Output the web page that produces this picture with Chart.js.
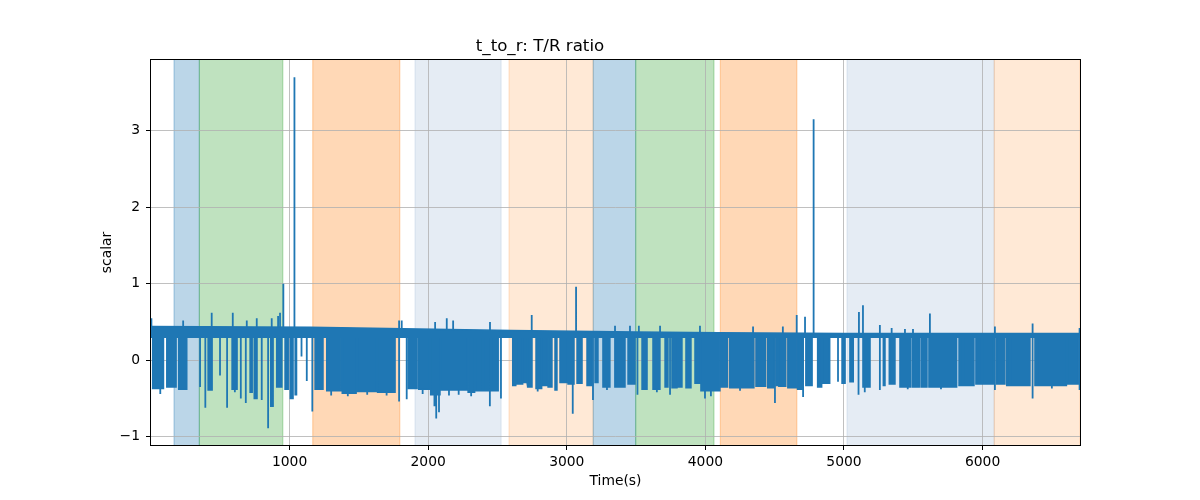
<!DOCTYPE html>
<html>
<head>
<meta charset="utf-8">
<script src="https://cdn.jsdelivr.net/npm/chart.js@4.4.1/dist/chart.umd.min.js"></script>
<style>
    html, body { margin: 0; padding: 0; background: #fff; }
    #grafico { display: block; }
</style>
</head>
<body>
<canvas id="grafico" width="1200" height="500"></canvas>
<script>
// Faixas de fundo (segundos)
const faixaInicio = [166, 349, 1167, 1905, 2583, 3191, 3497, 4108, 5022, 6084];
const faixaFim = [349, 951, 1795, 2526, 3191, 3497, 4062, 4660, 6084, 6703];
const faixaCor = [
    'rgba(31,119,180,0.3)',
    'rgba(44,160,44,0.3)',
    'rgba(255,127,14,0.3)',
    'rgba(176,196,222,0.33)',
    'rgba(255,127,14,0.17)',
    'rgba(31,119,180,0.3)',
    'rgba(44,160,44,0.3)',
    'rgba(255,127,14,0.3)',
    'rgba(176,196,222,0.33)',
    'rgba(255,127,14,0.17)'
];

// Nível superior da linha de base
const nivelT = [0, 1150, 2600, 3500, 4100, 5000, 6703];
const nivelTopo = [0.44, 0.43, 0.39, 0.37, 0.36, 0.35, 0.35];
const nivelBase = 0.29;
const topoBloco = 0.33;

// Blocos densos (início, fim, mínimo)
const blocoInicio = [12, 114, 200, 412, 585, 715, 745, 864, 907, 967, 1005, 1040, 1184, 1268, 1380, 1490, 1635,
    1855, 1932, 2018, 2092, 2288, 2345, 2400, 2460, 2610, 2641, 2684, 2720, 2778, 2821, 2865, 2915, 2951, 3009,
    3074, 3146, 3204, 3261, 3347, 3442, 3543, 3622, 3709, 3759, 3803, 3860, 3925, 3968, 4115, 4176, 4365, 4450,
    4510, 4530, 4595, 4665, 4725, 4810, 4846, 4986, 5043, 5137, 5284, 5327, 5404, 5496, 5556, 5613, 5830, 5866,
    5952, 6000, 6101, 6174, 6205, 6378, 6395, 6615];
const blocoFim = [90, 181, 258, 441, 621, 730, 765, 881, 944, 990, 1025, 1050, 1241, 1370, 1480, 1625, 1761,
    1920, 2008, 2085, 2280, 2335, 2390, 2450, 2505, 2632, 2677, 2713, 2749, 2814, 2857, 2893, 2929, 3002, 3052,
    3110, 3182, 3225, 3311, 3420, 3492, 3579, 3672, 3730, 3795, 3831, 3896, 3961, 4105, 4160, 4350, 4435, 4495,
    4520, 4580, 4660, 4700, 4770, 4839, 4897, 5008, 5067, 5188, 5296, 5368, 5483, 5543, 5599, 5813, 5856, 5938,
    5993, 6077, 6161, 6195, 6342, 6388, 6605, 6690];
const blocoMin = [-0.37, -0.35, -0.38, -0.39, -0.38, -0.42, -0.5, -0.6, -0.35, -0.38, -0.5, -0.45, -0.38, -0.4, -0.43, -0.41, -0.42,
    -0.37, -0.38, -0.45, -0.39, -0.42, -0.4, -0.4, -0.4, -0.33, -0.31, -0.29, -0.35, -0.37, -0.33, -0.35, -0.39, -0.29, -0.31,
    -0.3, -0.33, -0.29, -0.35, -0.35, -0.31, -0.38, -0.38, -0.35, -0.36, -0.35, -0.36, -0.3, -0.4, -0.35, -0.36, -0.34, -0.36,
    -0.33, -0.34, -0.36, -0.38, -0.33, -0.35, -0.3, -0.3, -0.28, -0.35, -0.33, -0.31, -0.35, -0.35, -0.35, -0.35, -0.33, -0.33,
    -0.31, -0.31, -0.31, -0.33, -0.33, -0.33, -0.33, -0.31];

// Quedas isoladas
const quedaT = [67, 354, 392, 498, 549, 605, 648, 684, 799, 845, 1086, 1124, 1164, 1300, 1420, 1560, 1700, 1790, 1845,
    1960, 2045, 2058, 2078, 2150, 2220, 2310, 2445, 2525, 2790, 3043, 3189, 3290, 3510, 3650, 3745, 3997, 4040,
    4250, 4502, 4705, 4957, 5105, 5150, 5259, 5460, 5700, 6089, 6361, 6500, 6700];
const quedaMin = [-0.44, -0.35, -0.62, -0.2, -0.62, -0.42, -0.5, -0.56, -0.52, -0.89, 0.05, -0.27, -0.67, -0.46, -0.47, -0.45, -0.46, -0.54, -0.51,
    -0.44, -0.6, -0.76, -0.68, -0.46, -0.45, -0.47, -0.6, -0.5, -0.41, -0.7, -0.52, -0.39, -0.45, -0.42, -0.45, -0.5, -0.47,
    -0.4, -0.56, -0.48, -0.28, -0.45, -0.42, -0.39, -0.38, -0.38, -0.39, -0.5, -0.37, -0.39];

// Picos para cima
const picoT = [3, 232, 438, 590, 691, 763, 871, 917, 931, 955, 1035, 1790, 1809, 2050, 2134, 2180, 2446, 2747, 3067,
    3348, 3456, 3520, 3673, 3961, 4344, 4559, 4659, 4719, 4781, 5108, 5137, 5259, 5344, 5440, 5498, 5620, 6089, 6361, 6700];
const picoMax = [0.55, 0.52, 0.62, 0.62, 0.52, 0.55, 0.55, 0.58, 0.62, 1.0, 3.7, 0.52, 0.52, 0.5, 0.55, 0.52, 0.5, 0.59, 0.96,
    0.45, 0.45, 0.45, 0.45, 0.45, 0.44, 0.44, 0.59, 0.57, 3.15, 0.63, 0.72, 0.46, 0.42, 0.41, 0.41, 0.61, 0.44, 0.48, 0.42];

const xTicks = [1000, 2000, 3000, 4000, 5000, 6000];
const yTicks = [-1, 0, 1, 2, 3];
const xMax = 6703;
const azul = '#1f77b4';

// Banda da linha de base
const pontosNivel = nivelT.map((t, i) => ({ x: t, y: nivelTopo[i] }));

// Blocos: sobem até topoBloco entre um bloco e outro
const pontosBloco = [{ x: 0, y: topoBloco }];
blocoInicio.forEach((ini, i) => {
    const fim = blocoFim[i];
    pontosBloco.push(
        { x: ini, y: topoBloco },
        { x: ini, y: blocoMin[i] },
        { x: fim, y: blocoMin[i] },
        { x: fim, y: topoBloco }
    );
});
pontosBloco.push({ x: xMax, y: topoBloco });

const pontosQueda = [];
quedaT.forEach((t, i) => {
    pontosQueda.push({ x: t, y: nivelBase }, { x: t, y: quedaMin[i] }, { x: t, y: null });
});

const pontosPico = [];
picoT.forEach((t, i) => {
    pontosPico.push({ x: t, y: nivelBase }, { x: t, y: picoMax[i] }, { x: t, y: null });
});

function formatarTick(v) {
    return v < 0 ? '\u2212' + Math.abs(v) : String(v);
}

const fonte = { family: 'DejaVu Sans', size: 13.89 };

const faixasPlugin = {
    id: 'faixas',
    beforeDraw(chart) {
        const { ctx, chartArea, scales: { x } } = chart;
        ctx.save();
        ctx.beginPath();
        ctx.rect(chartArea.left, chartArea.top, chartArea.right - chartArea.left, chartArea.bottom - chartArea.top);
        ctx.clip();
        faixaInicio.forEach((ini, i) => {
            const x0 = x.getPixelForValue(ini);
            const x1 = x.getPixelForValue(faixaFim[i]);
            ctx.fillStyle = faixaCor[i];
            ctx.fillRect(x0, chartArea.top, x1 - x0, chartArea.bottom - chartArea.top);
            ctx.strokeStyle = faixaCor[i];
            ctx.lineWidth = 1.2;
            ctx.beginPath();
            ctx.moveTo(x0, chartArea.top);
            ctx.lineTo(x0, chartArea.bottom);
            ctx.moveTo(x1, chartArea.top);
            ctx.lineTo(x1, chartArea.bottom);
            ctx.stroke();
        });
        ctx.restore();
    }
};

const molduraPlugin = {
    id: 'moldura',
    afterDatasetsDraw(chart) {
        const { ctx, chartArea } = chart;
        ctx.save();
        ctx.strokeStyle = '#000';
        ctx.lineWidth = 1;
        ctx.strokeRect(chartArea.left - 0.5, chartArea.top - 0.5,
            chartArea.right - chartArea.left + 1, chartArea.bottom - chartArea.top + 1);
        ctx.restore();
    }
};

const linhaBase = { borderColor: azul, backgroundColor: azul, pointRadius: 0, tension: 0 };

const grafico = new Chart(document.getElementById('grafico'), {
    type: 'line',
    data: {
        datasets: [
            { ...linhaBase, label: 't_to_r', data: pontosNivel, borderWidth: 1.5, fill: { value: nivelBase } },
            { ...linhaBase, label: 'blocos', data: pontosBloco, borderWidth: 1.5, fill: { value: topoBloco } },
            { ...linhaBase, label: 'quedas', data: pontosQueda, borderWidth: 1.8, fill: false },
            { ...linhaBase, label: 'picos', data: pontosPico, borderWidth: 1.8, fill: false }
        ]
    },
    options: {
        responsive: false,
        animation: false,
        devicePixelRatio: 1,
        layout: { padding: { left: 0, right: 120, top: 0, bottom: 0 } },
        plugins: {
            legend: { display: false },
            tooltip: { enabled: false },
            title: {
                display: true,
                text: 't_to_r: T/R ratio',
                color: '#000',
                font: { family: 'DejaVu Sans', size: 16.67, weight: 'normal' },
                padding: { top: 37, bottom: 3 }
            }
        },
        scales: {
            x: {
                type: 'linear',
                min: 0,
                max: xMax,
                afterBuildTicks: s => { s.ticks = xTicks.map(v => ({ value: v })); },
                afterFit: s => { s.height = 55; },
                grid: { color: '#b0b0b0', lineWidth: 0.8, tickColor: '#000', tickLength: 5, tickWidth: 1 },
                border: { display: false },
                ticks: { color: '#000', font: fonte, padding: 4, maxRotation: 0, callback: formatarTick },
                title: { display: true, text: 'Time(s)', color: '#000', font: fonte, padding: { top: 0, bottom: 10.7 } }
            },
            y: {
                type: 'linear',
                min: -1.108,
                max: 3.925,
                afterBuildTicks: s => { s.ticks = yTicks.map(v => ({ value: v })); },
                afterFit: s => { s.width = 151; },
                grid: { color: '#b0b0b0', lineWidth: 0.8, tickColor: '#000', tickLength: 5, tickWidth: 1 },
                border: { display: false },
                ticks: { color: '#000', font: fonte, padding: 6, callback: formatarTick },
                title: { display: true, text: 'scalar', color: '#000', font: fonte, padding: { top: 98.7, bottom: 0 } }
            }
        }
    },
    plugins: [faixasPlugin, molduraPlugin]
});
</script>
</body>
</html>
